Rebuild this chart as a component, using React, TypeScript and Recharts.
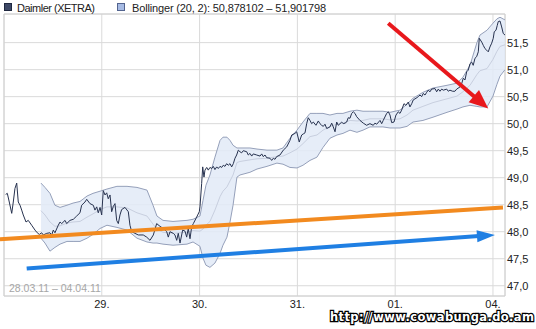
import React from 'react';
import {
  ComposedChart,
  Line,
  Area,
  XAxis,
  YAxis,
  CartesianGrid,
  ReferenceLine,
  ReferenceArea,
} from 'recharts';

// time axis: 100 units per trading day, 0 = open of 28.03.11
const dayTicks = [100, 200, 300, 400, 500];
const dayLabels = ['29.', '30.', '31.', '01.', '04.'];
const priceTicks = [47, 47.5, 48, 48.5, 49, 49.5, 50, 50.5, 51, 51.5];

// Daimler (XETRA) intraday price: [time, EUR]
const daimler: [number, number][] = [
  [1.7, 48.69], [3.4, 48.71], [5.4, 48.55], [7.9, 48.34], [9.5, 48.55], [11.2, 48.8], [13.0, 48.9],
  [14.6, 48.55], [16.4, 48.49], [18.1, 48.4], [19.7, 48.31], [22.5, 48.18], [24.8, 48.21], [28.3, 48.12],
  [31.7, 48.03], [34.0, 47.98], [36.1, 47.95], [38.5, 47.98], [40.2, 47.94], [43.7, 47.97], [47.0, 47.98],
  [48.8, 47.94], [50.4, 48.03], [52.1, 47.98], [55.5, 48.12], [57.3, 48.18], [59.0, 48.15], [62.4, 48.21],
  [64.1, 48.15], [67.5, 48.21], [70.9, 48.23], [74.3, 48.29], [77.7, 48.35], [79.4, 48.49], [82.8, 48.55],
  [84.6, 48.6], [87.9, 48.52], [91.3, 48.49], [93.0, 48.4], [94.8, 48.46], [96.4, 48.35], [98.2, 48.45],
  [99.9, 48.31], [101.5, 48.76], [103.3, 48.68], [105.0, 48.72], [106.6, 48.61], [108.4, 48.68],
  [110.1, 48.37], [111.8, 48.47], [113.5, 48.52], [115.2, 48.21], [116.9, 48.15], [118.6, 48.31],
  [120.3, 48.41], [123.7, 48.45], [127.1, 48.37], [128.8, 48.12], [130.6, 48.0], [133.9, 47.97],
  [137.3, 47.94], [142.4, 47.94], [145.9, 47.9], [149.3, 47.84], [152.7, 47.94], [156.1, 48.15],
  [159.5, 48.1], [162.9, 48.06], [166.4, 48.0], [168.0, 47.9], [169.7, 48.0], [173.1, 47.97], [174.8, 47.94],
  [176.6, 47.84], [178.2, 47.97], [180.0, 47.79], [182.7, 48.03], [185.1, 48.01], [186.8, 47.9],
  [188.4, 48.06], [190.2, 47.87], [191.9, 48.09], [193.6, 48.15], [197.0, 48.27], [199.7, 48.37],
  [200.4, 48.46], [202.1, 48.89], [203.2, 49.2], [204.5, 49.01], [205.5, 49.14], [207.3, 49.19],
  [208.9, 49.14], [210.6, 49.19], [212.4, 49.17], [214.0, 49.21], [215.7, 49.15], [217.5, 49.2],
  [219.1, 49.17], [220.9, 49.21], [222.6, 49.19], [224.2, 49.23], [226.0, 49.21], [227.7, 49.26],
  [229.3, 49.23], [231.1, 49.26], [232.8, 49.2], [234.5, 49.26], [236.2, 49.36], [237.9, 49.42],
  [239.6, 49.51], [241.3, 49.48], [243.0, 49.46], [244.7, 49.5], [248.2, 49.48], [249.8, 49.42],
  [251.5, 49.45], [253.3, 49.4], [254.9, 49.44], [258.4, 49.42], [261.8, 49.4], [263.5, 49.44],
  [265.1, 49.39], [266.9, 49.42], [268.6, 49.37], [272.0, 49.36], [273.7, 49.32], [275.4, 49.36],
  [277.1, 49.34], [278.8, 49.39], [282.2, 49.42], [285.6, 49.51], [289.1, 49.57], [292.4, 49.69],
  [294.2, 49.79], [297.5, 49.82], [299.3, 49.85], [301.9, 49.66], [304.4, 49.79], [306.0, 49.81],
  [307.8, 49.83], [309.5, 50.0], [311.1, 50.11], [312.9, 50.06], [314.6, 50.0], [316.3, 50.03],
  [319.0, 49.97], [321.4, 50.05], [323.1, 50.0], [324.8, 49.97], [326.5, 49.95], [328.2, 49.99],
  [330.0, 49.91], [333.3, 49.94], [335.1, 50.01], [336.7, 49.94], [338.5, 49.85], [340.2, 50.03],
  [341.8, 49.97], [343.6, 50.0], [345.3, 50.03], [346.9, 50.0], [348.7, 50.01], [350.4, 50.03],
  [352.0, 50.11], [353.8, 50.1], [355.5, 50.19], [357.2, 50.22], [358.9, 50.19], [360.6, 50.13],
  [364.0, 50.06], [367.4, 50.01], [370.8, 49.97], [374.2, 50.0], [377.6, 49.97], [379.3, 50.01],
  [381.1, 49.99], [384.5, 50.06], [386.2, 50.0], [387.8, 50.06], [391.3, 50.19], [393.0, 50.22],
  [394.7, 50.16], [396.4, 50.02], [398.8, 50.03], [400.8, 50.16], [403.2, 50.22], [404.9, 50.19],
  [406.6, 50.25], [409.0, 50.37], [411.0, 50.34], [413.4, 50.4], [415.1, 50.31], [416.9, 50.37],
  [418.5, 50.44], [421.3, 50.47], [423.6, 50.5], [425.4, 50.53], [427.1, 50.5], [428.7, 50.56],
  [430.5, 50.53], [432.2, 50.58], [433.8, 50.62], [435.6, 50.59], [437.3, 50.64], [440.7, 50.65],
  [442.4, 50.59], [444.1, 50.64], [445.8, 50.6], [447.6, 50.64], [449.2, 50.62], [452.7, 50.64],
  [454.3, 50.6], [456.0, 50.62], [458.8, 50.6], [461.1, 50.6], [462.9, 50.64], [466.3, 50.68],
  [468.0, 50.74], [469.6, 50.84], [471.4, 50.81], [473.1, 50.96], [474.7, 50.99], [476.5, 51.11],
  [478.2, 51.14], [479.8, 51.08], [481.6, 51.21], [483.3, 51.24], [485.0, 51.33], [486.0, 51.58],
  [488.5, 51.51], [490.1, 51.45], [491.8, 51.39], [493.6, 51.36], [495.2, 51.33], [496.9, 51.42],
  [498.7, 51.49], [500.3, 51.58], [501.3, 51.7], [503.1, 51.73], [504.4, 51.82], [505.4, 51.89],
  [507.2, 51.9], [508.9, 51.79], [510.5, 51.67], [512.3, 51.64],
];

// Bollinger (20, 2): [time, upper, middle, lower]
const bollinger: [number, number, number, number][] = [
  [37.8, 48.9, 48.39, 47.88], [41.9, 48.82, 48.31, 47.79], [47.0, 48.71, 48.18, 47.64],
  [52.1, 48.49, 48.1, 47.71], [57.3, 48.45, 48.11, 47.77], [64.4, 48.49, 48.16, 47.82],
  [70.6, 48.53, 48.18, 47.82], [77.7, 48.56, 48.19, 47.82], [84.9, 48.66, 48.27, 47.88],
  [91.0, 48.71, 48.33, 47.95], [98.2, 48.75, 48.41, 48.06], [105.3, 48.79, 48.46, 48.12],
  [115.5, 48.84, 48.46, 48.08], [125.8, 48.84, 48.44, 48.03], [136.0, 48.82, 48.35, 47.88],
  [146.2, 48.77, 48.29, 47.81], [152.4, 48.49, 48.14, 47.79], [156.4, 48.29, 48.04, 47.79],
  [162.6, 48.21, 47.99, 47.77], [172.8, 48.19, 47.97, 47.75], [187.1, 48.21, 47.99, 47.77],
  [193.3, 48.23, 48.02, 47.81], [200.4, 48.29, 48.01, 47.73], [203.5, 48.58, 48.05, 47.51],
  [206.5, 48.86, 48.12, 47.38], [210.6, 49.05, 48.19, 47.34], [215.7, 49.38, 48.4, 47.42],
  [220.9, 49.69, 48.65, 47.6], [223.9, 49.75, 48.75, 47.75], [228.0, 49.75, 48.83, 47.9],
  [231.1, 49.69, 48.94, 48.18], [234.2, 49.6, 49.05, 48.49], [238.2, 49.55, 49.28, 49.01],
  [241.3, 49.55, 49.3, 49.05], [251.5, 49.55, 49.33, 49.1], [258.7, 49.53, 49.35, 49.16],
  [268.9, 49.51, 49.36, 49.21], [279.1, 49.51, 49.39, 49.27], [285.3, 49.55, 49.4, 49.25],
  [292.4, 49.73, 49.46, 49.19], [299.6, 49.88, 49.53, 49.18], [305.7, 50.03, 49.63, 49.23],
  [312.9, 50.19, 49.76, 49.32], [320.0, 50.19, 49.79, 49.38], [326.2, 50.19, 49.88, 49.56],
  [333.3, 50.16, 49.95, 49.73], [340.5, 50.19, 49.99, 49.79], [346.6, 50.19, 50.01, 49.82],
  [353.8, 50.23, 50.06, 49.88], [360.9, 50.25, 50.05, 49.84], [367.1, 50.23, 50.06, 49.88],
  [374.2, 50.23, 50.09, 49.94], [381.4, 50.23, 50.09, 49.94], [387.5, 50.23, 50.09, 49.94],
  [394.7, 50.21, 50.07, 49.92], [404.9, 50.25, 50.09, 49.92], [412.1, 50.36, 50.16, 49.95],
  [418.2, 50.47, 50.25, 50.03], [428.4, 50.58, 50.32, 50.06], [438.7, 50.66, 50.39, 50.12],
  [453.0, 50.71, 50.46, 50.21], [463.2, 50.75, 50.51, 50.27], [469.3, 50.86, 50.59, 50.31],
  [476.5, 51.08, 50.71, 50.34], [483.6, 51.5, 50.91, 50.32], [486.7, 51.64, 50.98, 50.31],
  [493.9, 51.73, 51.02, 50.31], [500.0, 51.86, 51.19, 50.51], [504.1, 51.94, 51.34, 50.73],
  [507.2, 51.97, 51.43, 50.88], [512.3, 51.92, 51.46, 51.0],
];

// hand-drawn annotations: [time, EUR] start and end
const orangeTrend = [[-4.1, 47.86], [510.2, 48.45]];
const blueArrow = [[23.2, 47.32], [502.0, 47.94]];
const redArrow = [[392.9, 51.86], [495.2, 50.28]];

const priceData = daimler.map(([t, price]) => ({ t, price }));
const bandData = bollinger.map(([t, upper, middle, lower]) => ({
  t,
  upper,
  middle,
  lower,
  range: [lower, upper],
}));

const FONT = '"Liberation Sans", Arial, sans-serif';

const arrowShape = (color: string, width: number, headLen: number, headWidth: number) => (props: any) => {
  const { x1, y1, x2, y2 } = props;
  const dx = x2 - x1;
  const dy = y2 - y1;
  const len = Math.hypot(dx, dy) || 1;
  const ux = dx / len;
  const uy = dy / len;
  const bx = x2 - ux * headLen;
  const by = y2 - uy * headLen;
  const px = (-uy * headWidth) / 2;
  const py = (ux * headWidth) / 2;
  return (
    <g>
      <line x1={x1} y1={y1} x2={bx + ux * 2} y2={by + uy * 2} stroke={color} strokeWidth={width} />
      <polygon points={`${x2},${y2} ${bx + px},${by + py} ${bx - px},${by - py}`} fill={color} />
    </g>
  );
};

const seg = (p: number[][]) => [
  { x: p[0][0], y: p[0][1] },
  { x: p[1][0], y: p[1][1] },
];

const App: React.FC = () => {
  return (
    <div style={{ position: 'absolute', left: 0, top: 0, width: 536, height: 329, background: '#fff' }}>
      <ComposedChart width={536} height={329} margin={{ top: 14, right: 0, bottom: 0, left: 4 }}>
        <CartesianGrid stroke="#dadada" />
        <XAxis
          dataKey="t"
          type="number"
          domain={[0, 512.3]}
          allowDataOverflow
          ticks={dayTicks}
          interval={0}
          tickFormatter={(v: number) => dayLabels[dayTicks.indexOf(v)]}
          axisLine={false}
          tickLine={false}
          tickSize={0}
          tickMargin={4}
          height={33}
          tick={{ fontSize: 11, fill: '#222', fontFamily: FONT }}
        />
        <YAxis
          orientation="right"
          type="number"
          domain={[46.81, 52.03]}
          allowDataOverflow
          ticks={priceTicks}
          interval={0}
          tickFormatter={(v: number) => v.toFixed(1).replace('.', ',')}
          axisLine={false}
          tickLine={false}
          tickSize={0}
          tickMargin={2}
          width={31}
          tick={{ fontSize: 11, fill: '#222', fontFamily: FONT }}
        />
        <ReferenceArea x1={0} x2={512.3} y1={46.81} y2={52.03} fill="none" stroke="#d0d0d0" ifOverflow="visible" />
        <Area
          data={bandData}
          dataKey="range"
          type="linear"
          stroke="none"
          fill="#e2eaf7"
          fillOpacity={0.85}
          dot={false}
          activeDot={false}
          isAnimationActive={false}
        />
        <Line data={bandData} dataKey="upper" type="linear" stroke="#95a0ba" strokeWidth={1} dot={false} activeDot={false} isAnimationActive={false} />
        <Line data={bandData} dataKey="lower" type="linear" stroke="#95a0ba" strokeWidth={1} dot={false} activeDot={false} isAnimationActive={false} />
        <Line data={bandData} dataKey="middle" type="linear" stroke="#c8cfdf" strokeWidth={1} dot={false} activeDot={false} isAnimationActive={false} />
        <Line data={priceData} dataKey="price" type="linear" stroke="#27324f" strokeWidth={1} dot={false} activeDot={false} isAnimationActive={false} />
        <ReferenceLine segment={seg(orangeTrend)} stroke="#f28a1f" strokeWidth={4} ifOverflow="visible" />
        <ReferenceLine segment={seg(blueArrow)} ifOverflow="visible" shape={arrowShape('#1f7fe3', 4, 18, 12)} />
        <ReferenceLine segment={seg(redArrow)} ifOverflow="visible" shape={arrowShape('#e8181c', 4, 19, 16)} />
      </ComposedChart>
      <svg width={536} height={329} style={{ position: 'absolute', left: 0, top: 0, pointerEvents: 'none' }}>
        <rect x={4.5} y={3.5} width={7} height={7} fill="#3d4866" stroke="#1f2840" />
        <text x={17} y={12} fontSize={11} fontFamily={FONT} fill="#222" textLength={78}>
          Daimler (XETRA)
        </text>
        <rect x={117.5} y={3.5} width={7} height={7} fill="#a7bbe4" stroke="#53648f" />
        <text x={132} y={12} fontSize={11} fontFamily={FONT} fill="#222" textLength={194}>
          Bollinger (20, 2): 50,878102 – 51,901798
        </text>
        <text x={9} y={292} fontSize={10.5} fontFamily={FONT} fill="#a6a6a6">
          28.03.11 – 04.04.11
        </text>
        <text
          x={330}
          y={321}
          fontSize={11.5}
          fontWeight="bold"
          fontFamily='"DejaVu Sans", Verdana, sans-serif'
          fill="#fff"
          stroke="#000"
          strokeWidth={2.4}
          paintOrder="stroke"
          textLength={204}
        >
          http://www.cowabunga.do.am
        </text>
      </svg>
    </div>
  );
};

export default App;
